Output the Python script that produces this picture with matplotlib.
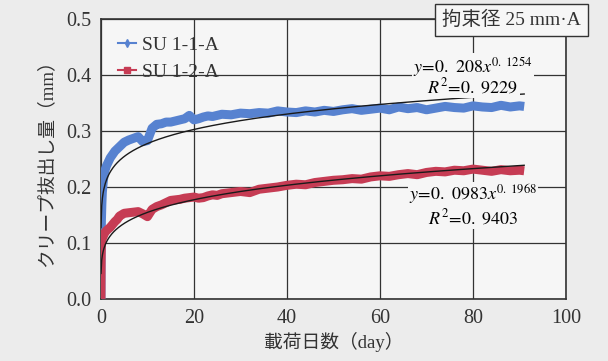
import numpy as np
import matplotlib.pyplot as plt

days = [0, 0.02, 0.05, 0.1, 0.2, 0.3, 0.5, 0.8, 1.2, 1.6, 2, 2.5, 3, 3.5, 4, 5, 6, 7, 8, 9, 10,
        11, 12, 13, 14, 15, 16, 17, 18, 19, 20, 21, 22, 23, 24, 25, 26, 28, 30, 32, 34,
        36, 38, 40, 42, 44, 46, 48, 50, 52, 54, 56, 58, 60, 62, 64, 66, 68, 70, 72, 74,
        76, 78, 80, 82, 84, 86, 88, 90, 91]
su_1_1 = [0.0, 0.07, 0.11, 0.14, 0.17, 0.19, 0.21, 0.228, 0.238, 0.245, 0.252, 0.258, 0.264,
          0.268, 0.272, 0.28, 0.284, 0.287, 0.29, 0.281, 0.283, 0.305, 0.312, 0.313, 0.316,
          0.316, 0.318, 0.32, 0.322, 0.328, 0.32, 0.322, 0.325, 0.327, 0.326, 0.328, 0.33, 0.329,
          0.332, 0.331, 0.333, 0.332, 0.336, 0.334, 0.333, 0.336, 0.334, 0.337, 0.335,
          0.338, 0.34, 0.337, 0.339, 0.341, 0.338, 0.343, 0.34, 0.342, 0.338, 0.341, 0.344,
          0.342, 0.341, 0.345, 0.343, 0.342, 0.346, 0.343, 0.345, 0.344]
su_1_2 = [0.0, 0.05, 0.08, 0.1, 0.105, 0.108, 0.112, 0.118, 0.122, 0.125, 0.128, 0.133, 0.138,
          0.142, 0.148, 0.153, 0.154, 0.155, 0.156, 0.152, 0.147, 0.16, 0.165, 0.168, 0.172,
          0.176, 0.177, 0.178, 0.18, 0.181, 0.182, 0.18, 0.181, 0.184, 0.186, 0.185, 0.188, 0.19,
          0.192, 0.19, 0.196, 0.198, 0.2, 0.203, 0.205, 0.204, 0.208, 0.21, 0.212, 0.213,
          0.215, 0.214, 0.218, 0.22, 0.219, 0.222, 0.224, 0.222, 0.226, 0.228, 0.227, 0.23,
          0.229, 0.232, 0.23, 0.228, 0.231, 0.229, 0.23, 0.229]

# power-law fits shown on the chart
fit_1 = (0.208, 0.1254, 0.9229)
fit_2 = (0.0983, 0.1968, 0.9403)

xticks = [0, 20, 40, 60, 80, 100]
yticks = [0.0, 0.1, 0.2, 0.3, 0.4, 0.5]

serif = ['Liberation Serif', 'Noto Sans CJK JP']
plt.rcParams['font.family'] = serif
plt.rcParams['mathtext.fontset'] = 'stix'

fig = plt.figure(figsize=(6.08, 3.61), dpi=100, facecolor='#ececec')
ax = fig.add_axes([0.166, 0.172, 0.765, 0.775], facecolor='#f6f6f6')

blue = '#5782d0'
red = '#c63c54'
ax.plot(days, su_1_1, color=blue, lw=6.5, solid_capstyle='butt', zorder=3)
ax.plot(days, su_1_2, color=red, lw=6.5, solid_capstyle='butt', zorder=3)
ax.plot([], [], color=blue, lw=1.5, marker='d', ms=4, label='SU 1-1-A')
ax.plot([], [], color=red, lw=1.5, marker='s', ms=4, label='SU 1-2-A')

xf = np.linspace(0.02, 91, 600)
for a, b, r2 in (fit_1, fit_2):
    ax.plot(xf, a * xf ** b, color='#1a1a1a', lw=1.0, zorder=4)

box = dict(facecolor='#f6f6f6', edgecolor='none', pad=1)
ax.text(80, 0.415, r'$y\!=\!0.\ 208x^{0.\ 1254}$', ha='center', va='center', fontsize=13,
        bbox=box, zorder=5)
ax.text(80, 0.379, r'$R^2\!=\!0.\ 9229$', ha='center', va='center', fontsize=13,
        bbox=box, zorder=5)
ax.text(80, 0.185, r'$y\!=\!0.\ 0983x^{0.\ 1968}$', ha='center', va='center', fontsize=13,
        bbox=box, zorder=5)
ax.text(80, 0.145, r'$R^2\!=\!0.\ 9403$', ha='center', va='center', fontsize=13,
        bbox=box, zorder=5)

ax.set_xlim(0, 100)
ax.set_ylim(0, 0.5)
ax.set_xticks(xticks)
ax.set_yticks(yticks)
ax.set_yticklabels(['%.1f' % v for v in yticks])
ax.tick_params(length=0, labelsize=14.5, colors='#333333', pad=7)
ax.grid(True, color='#333333', lw=0.9)
ax.set_axisbelow(True)
for s in ax.spines.values():
    s.set_color('#333333')
    s.set_linewidth(1.2)

ax.set_xlabel('載荷日数（day）', fontsize=13.5, color='#333333', labelpad=3)
ax.set_ylabel('クリープ抜出し量（mm）', fontsize=13.5, color='#333333', labelpad=8)

ax.legend(loc='upper left', frameon=False, fontsize=14, handlelength=0.9,
          handletextpad=0.3, borderaxespad=0.6, borderpad=0.3, labelspacing=0.45,
          labelcolor='#333333')

fig.text(0.842, 0.945, '拘束径 25 mm·A', ha='center', va='center', fontsize=14, color='#333333',
         bbox=dict(facecolor='#f6f6f6', edgecolor='#333333', lw=1.0, pad=5))

fig.savefig('out.png', dpi=100, facecolor=fig.get_facecolor())
